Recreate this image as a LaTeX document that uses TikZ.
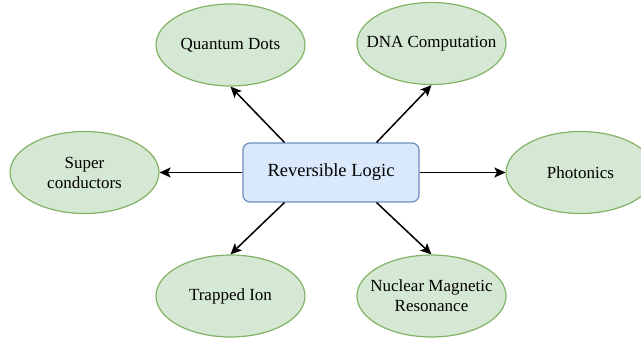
\documentclass[tikz,border=0pt]{standalone}
\usepackage{fontspec}
\setmainfont{Liberation Serif}
\newfontfamily\tnr{Liberation Serif}
\usetikzlibrary{shapes.geometric,arrows.meta}
\definecolor{gfill}{HTML}{D5E8D4}
\definecolor{gline}{HTML}{82B366}
\definecolor{bfill}{HTML}{DAE8FC}
\definecolor{bline}{HTML}{6C8EBF}
\tikzset{
  topic/.style={ellipse, draw=gline, fill=gfill, line width=1.2pt, minimum width=149pt, minimum height=82pt, inner sep=0pt},
  topictext/.style={align=center, inner sep=0pt, font=\tnr\fontsize{17}{20}\selectfont},
  hub/.style={rectangle, rounded corners=7pt, draw=bline, fill=bfill, line width=1.2pt, minimum width=176pt, minimum height=59pt, inner sep=0pt, font=\tnr\fontsize{18.5}{21}\selectfont},
  link/.style={line width=1.5pt, -{Stealth[length=11pt,width=10pt,inset=2.5pt]}}
}
\begin{document}
\begin{tikzpicture}[x=1pt,y=-1pt]
\useasboundingbox (0,0) rectangle (641,339);
\node[hub] (rl) at (331,172.5) {Reversible Logic};
\node[topic] (qd) at (230.5,45) {};
\node[topictext] (qdt) at (qd.center) {Quantum Dots};
\node[topic] (dna) at (431.5,43.5) {};
\node[topictext] (dnat) at (dna.center) {DNA Computation};
\node[topic] (sc) at (84.5,172.5) {};
\node[topictext] (sct) at (sc.center) {Super\\conductors};
\node[topic] (ph) at (580.5,172.5) {};
\node[topictext] (pht) at (ph.center) {Photonics};
\node[topic] (ti) at (230.5,296) {};
\node[topictext] (tit) at (ti.center) {Trapped Ion};
\node[topic] (nmr) at (431.5,296) {};
\node[topictext] (nmrt) at (nmr.center) {Nuclear Magnetic\\Resonance};
\draw[link] ([xshift=42pt]rl.north west) -- (qd.south);
\draw[link] ([xshift=-43pt]rl.north east) -- (dna.south);
\draw[link] (rl.west) -- (sc.east);
\draw[link] (rl.east) -- (ph.west);
\draw[link] ([xshift=42pt]rl.south west) -- (ti.north);
\draw[link] ([xshift=-43pt]rl.south east) -- (nmr.north);
\end{tikzpicture}
\end{document}
